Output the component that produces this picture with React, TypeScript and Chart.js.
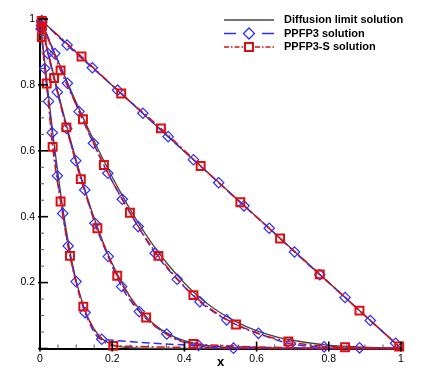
import React, { useEffect, useRef } from 'react';
import { Chart, registerables } from 'chart.js';

Chart.register(...registerables);

// ---------- data ----------
// Diffusion limit solution (solid black), four profiles
const D1_X = [0, 0.01, 0.02, 0.03, 0.04, 0.05, 0.06, 0.07, 0.08, 0.09, 0.1, 0.11, 0.12, 0.13, 0.14, 0.15, 0.17, 0.19, 0.21, 0.24, 0.28, 0.35, 0.5, 1];
const D1_Y = [1, 0.900, 0.801, 0.705, 0.613, 0.529, 0.449, 0.378, 0.313, 0.256, 0.207, 0.166, 0.131, 0.101, 0.078, 0.059, 0.032, 0.017, 0.008, 0.003, 0.001, 0, 0, 0];
const D2_X = [0, 0.025, 0.05, 0.075, 0.1, 0.125, 0.15, 0.175, 0.2, 0.225, 0.25, 0.275, 0.3, 0.325, 0.35, 0.375, 0.4, 0.45, 0.5, 0.55, 0.62, 0.75, 1];
const D2_Y = [1, 0.888, 0.777, 0.671, 0.572, 0.480, 0.396, 0.322, 0.258, 0.203, 0.157, 0.120, 0.090, 0.066, 0.048, 0.034, 0.024, 0.011, 0.005, 0.002, 0, 0, 0];
const D3_X = [0, 0.045, 0.09, 0.135, 0.18, 0.22, 0.265, 0.31, 0.35, 0.4, 0.44, 0.485, 0.53, 0.57, 0.615, 0.66, 0.7, 0.79, 0.88, 1];
const D3_Y = [1, 0.885, 0.772, 0.664, 0.563, 0.480, 0.394, 0.319, 0.261, 0.199, 0.157, 0.119, 0.089, 0.067, 0.048, 0.034, 0.025, 0.011, 0.005, 0.001];
const D4_X = [0, 0.1, 0.2, 0.3, 0.4, 0.5, 0.6, 0.7, 0.8, 0.9, 1];
const D4_Y = [1, 0.899, 0.798, 0.698, 0.598, 0.499, 0.399, 0.300, 0.200, 0.100, 0];

// PPFP3 solution (blue dashed, diamonds)
const P1_X = [0.003, 0.013, 0.0235, 0.034, 0.048, 0.063, 0.078, 0.1, 0.125, 0.171, 1];
const P1_Y = [0.97, 0.85, 0.75, 0.655, 0.524, 0.41, 0.311, 0.203, 0.109, 0.028, 0];
const P2_X = [0.004, 0.022, 0.048, 0.074, 0.099, 0.124, 0.152, 0.189, 0.226, 0.275, 0.351, 0.439, 0.536, 1];
const P2_Y = [0.98, 0.895, 0.778, 0.668, 0.570, 0.481, 0.380, 0.279, 0.188, 0.112, 0.044, 0.009, 0.001, 0];
const P3_X = [0.005, 0.041, 0.076, 0.108, 0.148, 0.188, 0.228, 0.272, 0.319, 0.380, 0.443, 0.517, 0.605, 0.694, 0.787, 0.885, 1];
const P3_Y = [0.99, 0.895, 0.805, 0.719, 0.623, 0.532, 0.453, 0.370, 0.289, 0.210, 0.142, 0.087, 0.046, 0.014, 0.005, 0.002, 0];
const P4_X = [0.005, 0.075, 0.145, 0.215, 0.285, 0.355, 0.425, 0.495, 0.565, 0.635, 0.705, 0.775, 0.845, 0.915, 0.985];
const P4_Y = [0.995, 0.921, 0.852, 0.784, 0.714, 0.643, 0.573, 0.503, 0.433, 0.365, 0.293, 0.224, 0.155, 0.085, 0.016];

// PPFP3-S solution (red dash-dot, squares)
const S1_X = [0.005, 0.0186, 0.035, 0.057, 0.083, 0.12, 0.203, 1];
const S1_Y = [0.945, 0.804, 0.612, 0.446, 0.281, 0.127, 0.008, 0];
const S2_X = [0.005, 0.039, 0.073, 0.113, 0.159, 0.214, 0.294, 0.425, 1];
const S2_Y = [0.977, 0.821, 0.671, 0.514, 0.365, 0.221, 0.094, 0.014, 0];
const S3_X = [0.005, 0.057, 0.119, 0.177, 0.249, 0.328, 0.425, 0.543, 0.688, 0.845, 1];
const S3_Y = [0.99, 0.844, 0.696, 0.557, 0.412, 0.281, 0.162, 0.073, 0.021, 0.004, 0];
const S4_X = [0.005, 0.115, 0.225, 0.335, 0.445, 0.555, 0.665, 0.775, 0.885, 0.995];
const S4_Y = [0.994, 0.886, 0.774, 0.668, 0.554, 0.444, 0.334, 0.225, 0.115, 0.006];

const LEGEND_LABELS = ['Diffusion limit solution', 'PPFP3 solution', 'PPFP3-S solution'];
const X_TITLE = 'x';

// ---------- styles ----------
const BLACK = 'rgb(70,70,70)';
const BLUE = 'rgb(45,45,255)';
const RED = 'rgb(220,15,15)';
const FONT = '"Liberation Sans", Arial, Helvetica, sans-serif';
const NONE = 'rgba(0,0,0,0)';

const pts = (xs: number[], ys: number[]) => xs.map((x, i) => ({ x, y: ys[i] }));
// hide the marker on the final tail point (x = 1) of the profiles that run along the axis
const radii = (n: number, r: number, hideLast: boolean) =>
  Array.from({ length: n }, (_, i) => (hideLast && i === n - 1 ? 0 : r));

const ticksPlugin = {
  id: 'inwardTicks',
  afterDatasetsDraw(chart: any) {
    const { ctx, chartArea, scales } = chart;
    const xs = scales.x;
    const ys = scales.y;
    ctx.save();
    const step = 0.05;
    for (let i = 0; i <= 20; i++) {
      const v = i * step;
      const major = i % 4 === 0;
      ctx.strokeStyle = major ? '#000' : '#555';
      ctx.lineWidth = major ? 1.6 : 1;
      const px = xs.getPixelForValue(v);
      ctx.beginPath();
      ctx.moveTo(px, chartArea.bottom + (major ? 3 : 0));
      ctx.lineTo(px, chartArea.bottom - (major ? 7 : 4));
      ctx.stroke();
      const py = ys.getPixelForValue(v);
      ctx.beginPath();
      ctx.moveTo(chartArea.left - (major ? 2 : 0), py);
      ctx.lineTo(chartArea.left + (major ? 8 : 4), py);
      ctx.stroke();
    }
    ctx.restore();
  },
};

const legendPlugin = {
  id: 'customLegend',
  afterDraw(chart: any) {
    const ctx = chart.ctx;
    ctx.save();
    const x0 = 224;
    const x1 = 274;
    const xm = 249;
    const tx = 284;
    const rows = [20, 33.5, 47];
    // row 1
    ctx.strokeStyle = BLACK;
    ctx.lineWidth = 1.4;
    ctx.setLineDash([]);
    ctx.beginPath();
    ctx.moveTo(x0, rows[0]);
    ctx.lineTo(x1, rows[0]);
    ctx.stroke();
    // row 2
    ctx.strokeStyle = BLUE;
    ctx.lineWidth = 1.5;
    ctx.beginPath();
    ctx.moveTo(x0, rows[1]);
    ctx.lineTo(x0 + 12, rows[1]);
    ctx.moveTo(x1 - 12, rows[1]);
    ctx.lineTo(x1, rows[1]);
    ctx.stroke();
    ctx.lineWidth = 1.3;
    ctx.beginPath();
    ctx.moveTo(xm - 5.5, rows[1]);
    ctx.lineTo(xm, rows[1] - 5.5);
    ctx.lineTo(xm + 5.5, rows[1]);
    ctx.lineTo(xm, rows[1] + 5.5);
    ctx.closePath();
    ctx.stroke();
    // row 3
    ctx.strokeStyle = RED;
    ctx.lineWidth = 1.5;
    ctx.setLineDash([5, 2, 1.5, 2]);
    ctx.beginPath();
    ctx.moveTo(x0, rows[2]);
    ctx.lineTo(xm - 6, rows[2]);
    ctx.moveTo(xm + 6, rows[2]);
    ctx.lineTo(x1, rows[2]);
    ctx.stroke();
    ctx.setLineDash([]);
    ctx.lineWidth = 2;
    ctx.strokeRect(xm - 4, rows[2] - 4, 8, 8);
    // text
    ctx.fillStyle = '#000';
    ctx.font = `bold 11px ${FONT}`;
    ctx.textBaseline = 'middle';
    ctx.textAlign = 'left';
    LEGEND_LABELS.forEach((t, i) => ctx.fillText(t, tx, rows[i]));
    ctx.restore();
  },
};

const fmt = (v: any) => {
  const n = Math.round(Number(v) * 10) / 10;
  return String(n);
};

export default function App() {
  const ref = useRef<HTMLCanvasElement | null>(null);
  useEffect(() => {
    if (!ref.current) return;
    const black = (xs: number[], ys: number[]) => ({
      data: pts(xs, ys),
      borderColor: BLACK,
      borderWidth: 1.3,
      pointRadius: 0,
      cubicInterpolationMode: 'monotone' as const,
      clip: false as any,
      order: 2,
    });
    const blue = (xs: number[], ys: number[], hideLast: boolean) => ({
      data: pts(xs, ys),
      borderColor: BLUE,
      borderWidth: 1.5,
      borderDash: [8, 4],
      pointStyle: 'rectRot' as const,
      pointRadius: radii(xs.length, 5.2, hideLast),
      pointBorderColor: BLUE,
      pointBackgroundColor: NONE,
      pointBorderWidth: 1.2,
      cubicInterpolationMode: 'monotone' as const,
      clip: false as any,
      order: 1,
    });
    const red = (xs: number[], ys: number[], hideLast: boolean) => ({
      data: pts(xs, ys),
      borderColor: RED,
      borderWidth: 1.5,
      borderDash: [8, 3, 2, 3],
      pointStyle: 'rect' as const,
      pointRadius: radii(xs.length, 5.6, hideLast),
      pointBorderColor: RED,
      pointBackgroundColor: NONE,
      pointBorderWidth: 2,
      cubicInterpolationMode: 'monotone' as const,
      clip: false as any,
      order: 0,
    });
    const chart = new Chart(ref.current, {
      type: 'line',
      data: {
        datasets: [
          red(S1_X, S1_Y, true),
          red(S2_X, S2_Y, true),
          red(S3_X, S3_Y, true),
          red(S4_X, S4_Y, false),
          blue(P1_X, P1_Y, true),
          blue(P2_X, P2_Y, true),
          blue(P3_X, P3_Y, true),
          blue(P4_X, P4_Y, false),
          black(D1_X, D1_Y),
          black(D2_X, D2_Y),
          black(D3_X, D3_Y),
          black(D4_X, D4_Y),
        ] as any,
      },
      options: {
        animation: false,
        responsive: true,
        maintainAspectRatio: false,
        layout: { padding: { top: 19, right: 22, left: 0, bottom: 0 } },
        plugins: { legend: { display: false }, tooltip: { enabled: false } },
        events: [],
        scales: {
          x: {
            type: 'linear',
            min: 0,
            max: 1,
            grid: { display: false, drawTicks: false },
            border: { display: true, color: '#000', width: 2 },
            ticks: {
              stepSize: 0.2,
              autoSkip: false,
              maxRotation: 0,
              padding: 4,
              color: '#000',
              font: { family: FONT, size: 10.5 },
              callback: (v: any) => fmt(v),
            },
            title: {
              display: true,
              text: X_TITLE,
              color: '#000',
              font: { family: FONT, size: 13, weight: 'bold' },
              padding: { top: 0, bottom: 6 },
            },
            afterFit: (s: any) => {
              s.height = 27.5;
            },
          },
          y: {
            type: 'linear',
            min: 0,
            max: 1,
            grid: { display: false, drawTicks: false },
            border: { display: true, color: '#000', width: 2 },
            ticks: {
              stepSize: 0.2,
              autoSkip: false,
              padding: 5,
              color: '#000',
              font: { family: FONT, size: 10.5 },
              callback: (v: any) => (Number(v) === 0 ? '' : fmt(v)),
            },
            afterFit: (s: any) => {
              s.width = 40;
            },
          },
        },
      } as any,
      plugins: [ticksPlugin, legendPlugin],
    });
    return () => chart.destroy();
  }, []);
  return (
    <div style={{ position: 'absolute', left: 0, top: 0, width: 423, height: 376, background: '#fff' }}>
      <canvas ref={ref} />
    </div>
  );
}
